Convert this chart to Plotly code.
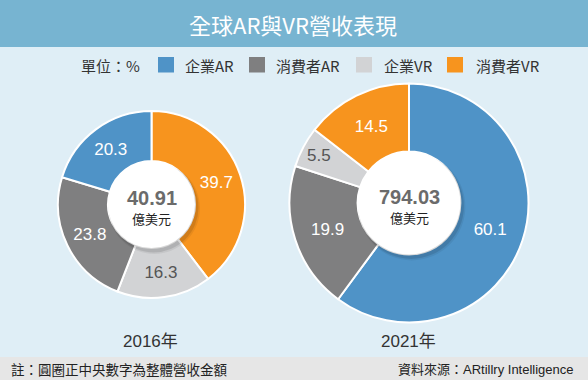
import plotly.graph_objects as go

# ---------------- data ----------------
categories = ["企業AR", "消費者AR", "企業VR", "消費者VR"]
colors = ["#4f93c7", "#7f7f80", "#d2d3d5", "#f7941e"]
text_colors = ["#ffffff", "#ffffff", "#555555", "#ffffff"]
share_2016 = [20.3, 23.8, 16.3, 39.7]
share_2021 = [60.1, 19.9, 5.5, 14.5]
total_2016 = "40.91"
total_2021 = "794.03"
unit_total = "億美元"
year_labels = ["2016年", "2021年"]
# clockwise slice order starting from 12 o'clock
order_2016 = ["消費者VR", "企業VR", "消費者AR", "企業AR"]
order_2021 = ["企業AR", "消費者AR", "企業VR", "消費者VR"]

title = "全球AR與VR營收表現"
unit_label = "單位：%"
note = "註：圓圈正中央數字為整體營收金額"
source = "資料來源：ARtillry Intelligence"

# ---------------- layout helpers ----------------
W, H = 588, 384
def px(x):
    return x / W
def py(y):
    return 1 - y / H

CJK = "Noto Sans CJK TC, Noto Sans CJK SC, sans-serif"
NUM = "Liberation Sans, Arial, Noto Sans CJK TC, sans-serif"

pies = [
    dict(year=year_labels[0], values=share_2016, order=order_2016, total=total_2016,
         cx=151.5, cy=204.5, r=93.5, hole=0.465, ylab=341),
    dict(year=year_labels[1], values=share_2021, order=order_2021, total=total_2021,
         cx=409, cy=203, r=119.5, hole=0.43, ylab=341),
]

fig = go.Figure()
shapes = []
annotations = []

# title bar, footer
shapes.append(dict(type="rect", xref="paper", yref="paper", x0=0, x1=1, y0=py(47), y1=1,
                   fillcolor="#77b4d1", line=dict(width=0), layer="below"))
shapes.append(dict(type="rect", xref="paper", yref="paper", x0=0, x1=1, y0=py(380), y1=py(357),
                   fillcolor="#e6e6e6", line=dict(width=0), layer="below"))
shapes.append(dict(type="rect", xref="paper", yref="paper", x0=0, x1=1, y0=0, y1=py(380),
                   fillcolor="#ffffff", line=dict(width=0), layer="below"))

annotations.append(dict(text=title, x=px(293), y=py(24), xref="paper", yref="paper",
                        showarrow=False, xanchor="center", yanchor="middle",
                        font=dict(family=CJK, size=22, color="#ffffff")))

# legend row
annotations.append(dict(text=unit_label, x=px(79), y=py(65), xref="paper", yref="paper",
                        showarrow=False, xanchor="left", yanchor="middle",
                        font=dict(family=CJK, size=15, color="#333333")))
leg_sq_x = [158, 249, 356, 447]
leg_tx_x = [184, 275, 383, 475]
for i, cat in enumerate(categories):
    shapes.append(dict(type="rect", xref="paper", yref="paper",
                       x0=px(leg_sq_x[i]), x1=px(leg_sq_x[i] + 16), y0=py(72.5), y1=py(57),
                       fillcolor=colors[i], line=dict(width=0)))
    annotations.append(dict(text=cat, x=px(leg_tx_x[i] - 1), y=py(65), xref="paper", yref="paper",
                            showarrow=False, xanchor="left", yanchor="middle",
                            font=dict(family=CJK, size=15, color="#333333")))

for p in pies:
    idx = [categories.index(c) for c in p["order"]]
    vals = [p["values"][k] for k in idx]
    fig.add_trace(go.Pie(
        labels=p["order"],
        values=vals,
        text=[f"{v:.1f}" for v in vals],
        textinfo="text",
        textposition="inside",
        insidetextorientation="horizontal",
        textfont=dict(family=NUM, size=17, color=[text_colors[k] for k in idx]),
        marker=dict(colors=[colors[k] for k in idx], line=dict(color="#ffffff", width=2)),
        sort=False,
        direction="clockwise",
        rotation=0,
        hole=p["hole"],
        showlegend=False,
        hoverinfo="label+value",
        domain=dict(x=[px(p["cx"] - p["r"]), px(p["cx"] + p["r"])],
                    y=[py(p["cy"] + p["r"]), py(p["cy"] - p["r"])]),
    ))
    rh = p["r"] * p["hole"]
    cx, cy = p["cx"], p["cy"]
    # soft shadow
    for dr, op in [(3.5, 0.06), (2, 0.10)]:
        shapes.append(dict(type="circle", xref="paper", yref="paper", layer="above",
                           x0=px(cx - rh + 1.5 - dr * 0.3), x1=px(cx + rh + 1.5 + dr),
                           y0=py(cy + rh + 2.5 + dr), y1=py(cy - rh + 2.5 - dr * 0.3),
                           fillcolor=f"rgba(0,0,0,{op})", line=dict(width=0)))
    shapes.append(dict(type="circle", xref="paper", yref="paper", layer="above",
                       x0=px(cx - rh), x1=px(cx + rh), y0=py(cy + rh), y1=py(cy - rh),
                       fillcolor="#ffffff", line=dict(width=0)))
    annotations.append(dict(text=f"<b>{p['total']}</b>", x=px(cx), y=py(cy - 6.5), xref="paper", yref="paper",
                            showarrow=False, xanchor="center", yanchor="middle", borderpad=0,
                            font=dict(family=NUM, size=20, color="#6b6b6b")))
    annotations.append(dict(text=unit_total, x=px(cx), y=py(cy + 14), xref="paper", yref="paper",
                            showarrow=False, xanchor="center", yanchor="middle", borderpad=0,
                            font=dict(family=CJK, size=13, color="#222222")))
    annotations.append(dict(text=p["year"], x=px(cx - 1), y=py(p["ylab"]), xref="paper", yref="paper",
                            showarrow=False, xanchor="center", yanchor="middle",
                            font=dict(family=NUM, size=17, color="#333333")))

annotations.append(dict(text=note, x=px(9), y=py(369), xref="paper", yref="paper",
                        showarrow=False, xanchor="left", yanchor="middle",
                        font=dict(family=CJK, size=13.5, color="#222222")))
annotations.append(dict(text=source, x=px(576), y=py(369), xref="paper", yref="paper",
                        showarrow=False, xanchor="right", yanchor="middle",
                        font=dict(family=NUM, size=13, color="#222222")))

fig.update_layout(
    width=W, height=H,
    margin=dict(l=0, r=0, t=0, b=0),
    paper_bgcolor="#dfeef6",
    plot_bgcolor="#dfeef6",
    shapes=shapes,
    annotations=annotations,
)

fig.write_html(
    "out.html",
    config={"displayModeBar": False},
    post_script="document.body.style.margin='0';document.body.style.padding='0';document.body.style.overflow='hidden';",
)
